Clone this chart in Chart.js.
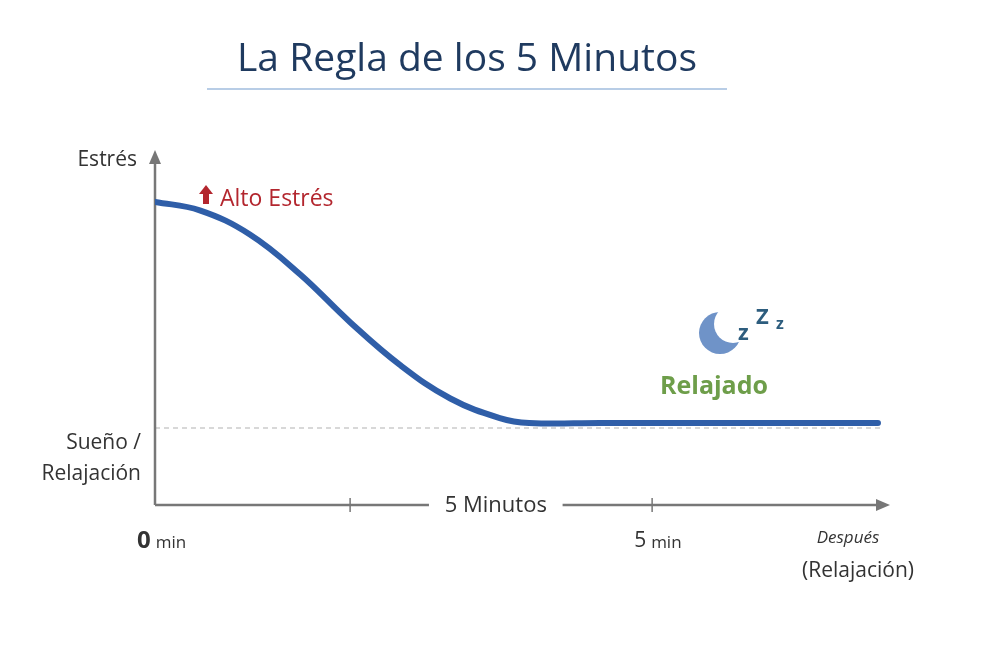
<!DOCTYPE html>
<html><head><meta charset="utf-8">
<script src="https://cdn.jsdelivr.net/npm/chart.js@4.4.0/dist/chart.umd.min.js"></script>
<style>html,body{margin:0;background:#fff}#c{display:block}</style>
</head><body>
<canvas id="c" width="1000" height="667"></canvas>
<script>
// curve readings (minutes-ish units, stress units)
const xValues = [0, 0.67, 1.42, 2.17, 2.92, 3.67, 4.42, 5.16, 5.6, 6.66, 10.82];
const yValues = [8.54, 8.3, 7.62, 6.5, 5.15, 3.94, 3.0, 2.45, 2.31, 2.31, 2.31];
const sleepLevel = 2.17;
const tickMarks = [2.92, 7.44];
const xLabels = [{x: 0, text: '0'}, {x: 7.44, text: '5'}];

const navy = '#1f3a5f', grey = '#777';
const F = '"Open Sans", sans-serif';

const decor = {
  id: 'decor',
  beforeDatasetsDraw(chart) {
    const {ctx, scales: {x, y}} = chart;
    const x0 = x.getPixelForValue(0), y0 = y.getPixelForValue(0);
    ctx.save();
    // dashed sleep line
    ctx.strokeStyle = '#ccc'; ctx.lineWidth = 1.5; ctx.setLineDash([5, 4]);
    const yd = y.getPixelForValue(sleepLevel);
    ctx.beginPath(); ctx.moveTo(x0, yd); ctx.lineTo(x.getPixelForValue(10.9), yd); ctx.stroke();
    ctx.setLineDash([]);
    // axes
    ctx.strokeStyle = grey; ctx.fillStyle = grey; ctx.lineWidth = 2.5;
    const yTop = y.getPixelForValue(10), xEnd = x.getPixelForValue(11);
    ctx.beginPath(); ctx.moveTo(x0, y0); ctx.lineTo(x0, yTop + 8); ctx.stroke();
    ctx.beginPath(); ctx.moveTo(x0, yTop); ctx.lineTo(x0 - 6, yTop + 14); ctx.lineTo(x0 + 6, yTop + 14); ctx.fill();
    ctx.beginPath(); ctx.moveTo(x0, y0); ctx.lineTo(x.getPixelForValue(4.1), y0);
    ctx.moveTo(x.getPixelForValue(6.1), y0); ctx.lineTo(xEnd - 8, y0); ctx.stroke();
    ctx.beginPath(); ctx.moveTo(xEnd, y0); ctx.lineTo(xEnd - 14, y0 - 6); ctx.lineTo(xEnd - 14, y0 + 6); ctx.fill();
    ctx.lineWidth = 1.5;
    tickMarks.forEach(t => {
      const px = x.getPixelForValue(t);
      ctx.beginPath(); ctx.moveTo(px, y0 - 7); ctx.lineTo(px, y0 + 7); ctx.stroke();
    });
    // texts
    ctx.fillStyle = '#333'; ctx.textBaseline = 'middle';
    ctx.font = '22px ' + F; ctx.textAlign = 'center';
    ctx.fillText('5 Minutos', x.getPixelForValue(5.1), y0 + 1);
    ctx.textAlign = 'right'; ctx.font = '21px ' + F;
    ctx.fillText('Estrés', x0 - 18, yTop + 10);
    ctx.fillText('Sueño /', x0 - 14, y0 - 62);
    ctx.fillText('Relajación', x0 - 14, y0 - 31);
    xLabels.forEach(l => {
      const px = x.getPixelForValue(l.x);
      ctx.textAlign = 'left';
      ctx.font = (l.x === 0 ? 'bold 24px ' : '21px ') + F;
      const w = ctx.measureText(l.text).width;
      const start = px - 18;
      ctx.fillText(l.text, start, y0 + 36);
      ctx.font = '17px ' + F;
      ctx.fillText('min', start + w + 5, y0 + 38);
    });
    ctx.textAlign = 'center';
    ctx.font = 'italic 17px ' + F;
    ctx.fillText('Después', 848, y0 + 33);
    ctx.font = '21px ' + F;
    ctx.fillText('(Relajación)', 858, y0 + 66);
    // high stress label
    ctx.fillStyle = '#b3262e'; ctx.textAlign = 'left'; ctx.font = '23px ' + F;
    ctx.fillText('Alto Estrés', 220, 199);
    ctx.beginPath(); ctx.moveTo(206, 185); ctx.lineTo(199, 194); ctx.lineTo(213, 194); ctx.fill();
    ctx.fillRect(203, 193, 6, 11);
    // relaxed label
    ctx.fillStyle = '#6e9e4a'; ctx.font = 'bold 25px ' + F; ctx.textAlign = 'center';
    ctx.fillText('Relajado', 714, 387);
    // moon
    ctx.fillStyle = '#6f93c8';
    ctx.beginPath(); ctx.arc(720, 333, 21, 0, Math.PI * 2); ctx.fill();
    ctx.fillStyle = '#fff';
    ctx.beginPath(); ctx.arc(733, 324, 19, 0, Math.PI * 2); ctx.fill();
    ctx.fillStyle = '#2d5d7e'; ctx.font = 'bold 22px ' + F; ctx.textAlign = 'left';
    ctx.fillText('z', 738, 334); ctx.font = 'bold 22px ' + F;
    ctx.fillText('Z', 756, 318); ctx.font = 'bold 16px ' + F;
    ctx.fillText('z', 776, 324);
    // title
    ctx.fillStyle = navy; ctx.textAlign = 'center'; ctx.font = '500 39px ' + F;
    ctx.fillText('La Regla de los 5 Minutos', 467, 60);
    ctx.strokeStyle = '#b8cde6'; ctx.lineWidth = 2;
    ctx.beginPath(); ctx.moveTo(207, 89); ctx.lineTo(727, 89); ctx.stroke();
    ctx.restore();
  }
};

new Chart(document.getElementById('c'), {
  type: 'line',
  data: {
    datasets: [{
      data: xValues.map((v, i) => ({x: v, y: yValues[i]})),
      borderColor: '#2f5ea8', borderWidth: 6, pointRadius: 0,
      tension: 0.4, fill: false, borderCapStyle: 'round'
    }]
  },
  options: {
    responsive: false, animation: false,
    layout: {padding: {left: 155, right: 110, top: 150, bottom: 162}},
    plugins: {legend: {display: false}, tooltip: {enabled: false}},
    scales: {
      x: {type: 'linear', min: 0, max: 11, display: false},
      y: {min: 0, max: 10, display: false}
    }
  },
  plugins: [decor]
});
</script>
</body></html>
